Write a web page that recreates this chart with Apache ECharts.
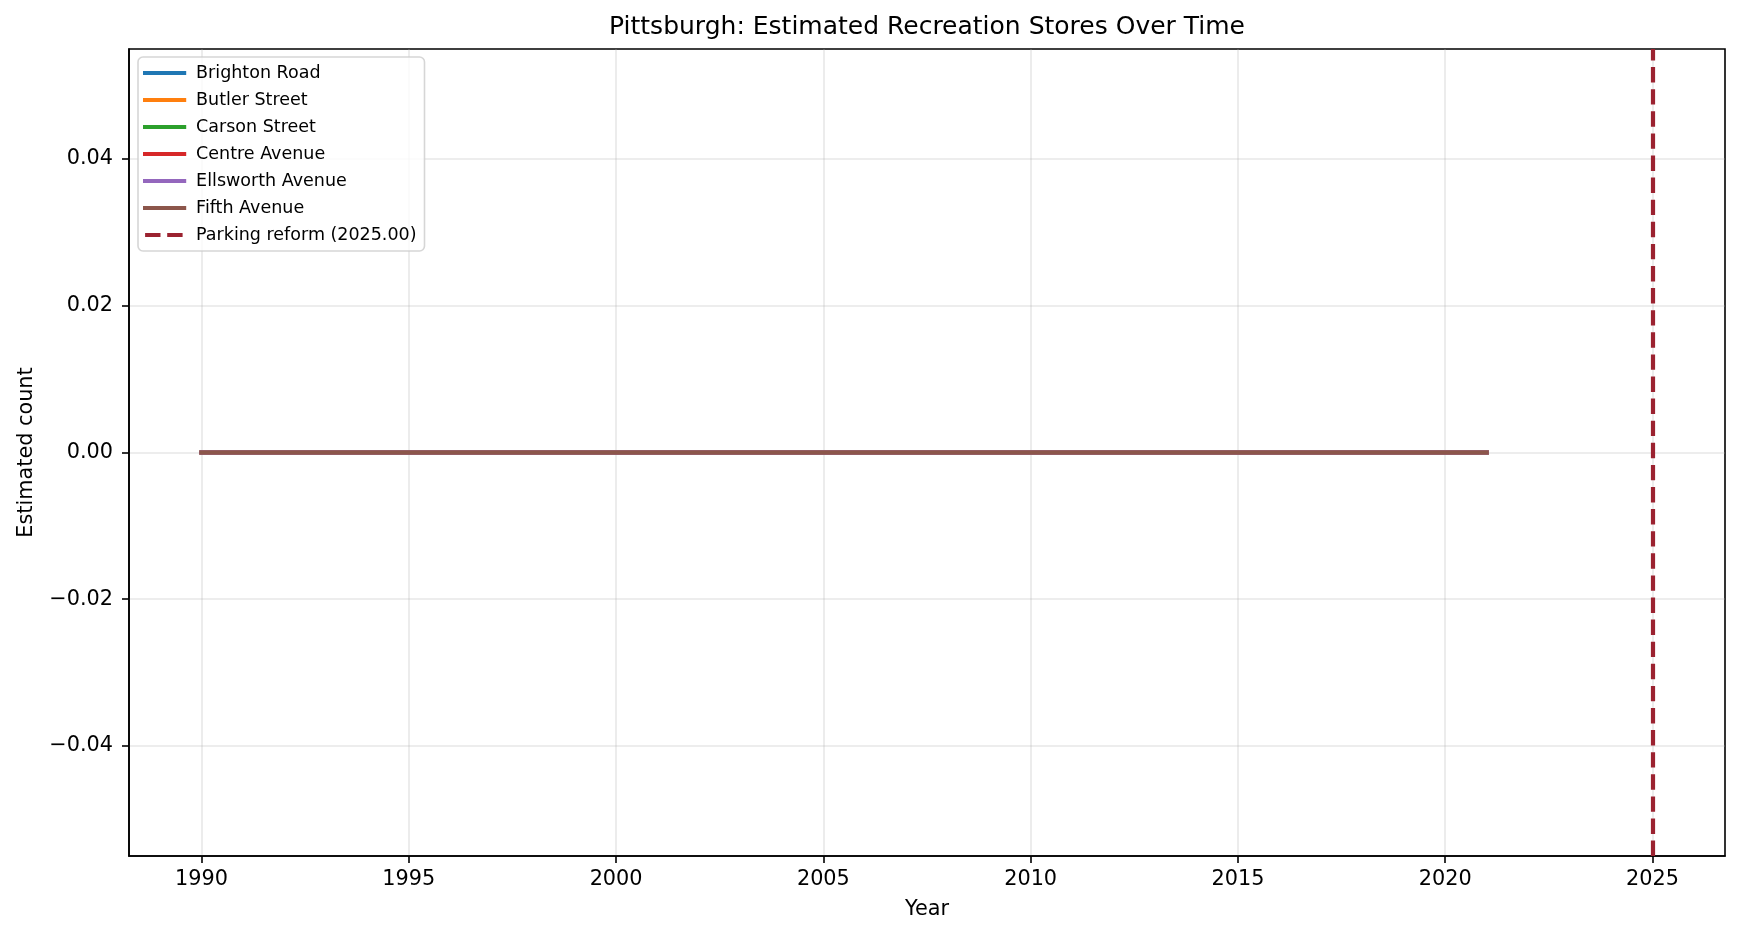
<!DOCTYPE html>
<html>
<head>
<meta charset="utf-8">
<title>Pittsburgh: Estimated Recreation Stores Over Time</title>
<script src="https://cdn.jsdelivr.net/npm/echarts@6/dist/echarts.min.js"></script>
<style>
  html, body { margin: 0; padding: 0; background: #fff; }
  #chart { width: 1742px; height: 936px; }
</style>
</head>
<body>
<div id="chart"></div>
<script>
// data
var years = [1990, 1991, 1992, 1993, 1994, 1995, 1996, 1997, 1998, 1999, 2000, 2001, 2002, 2003, 2004, 2005,
             2006, 2007, 2008, 2009, 2010, 2011, 2012, 2013, 2014, 2015, 2016, 2017, 2018, 2019, 2020, 2021];
var brightonRoad   = [0, 0, 0, 0, 0, 0, 0, 0, 0, 0, 0, 0, 0, 0, 0, 0, 0, 0, 0, 0, 0, 0, 0, 0, 0, 0, 0, 0, 0, 0, 0, 0];
var butlerStreet   = [0, 0, 0, 0, 0, 0, 0, 0, 0, 0, 0, 0, 0, 0, 0, 0, 0, 0, 0, 0, 0, 0, 0, 0, 0, 0, 0, 0, 0, 0, 0, 0];
var carsonStreet   = [0, 0, 0, 0, 0, 0, 0, 0, 0, 0, 0, 0, 0, 0, 0, 0, 0, 0, 0, 0, 0, 0, 0, 0, 0, 0, 0, 0, 0, 0, 0, 0];
var centreAvenue   = [0, 0, 0, 0, 0, 0, 0, 0, 0, 0, 0, 0, 0, 0, 0, 0, 0, 0, 0, 0, 0, 0, 0, 0, 0, 0, 0, 0, 0, 0, 0, 0];
var ellsworthAve   = [0, 0, 0, 0, 0, 0, 0, 0, 0, 0, 0, 0, 0, 0, 0, 0, 0, 0, 0, 0, 0, 0, 0, 0, 0, 0, 0, 0, 0, 0, 0, 0];
var fifthAvenue    = [0, 0, 0, 0, 0, 0, 0, 0, 0, 0, 0, 0, 0, 0, 0, 0, 0, 0, 0, 0, 0, 0, 0, 0, 0, 0, 0, 0, 0, 0, 0, 0];
var reformYear = 2025;

var streetNames = ['Brighton Road', 'Butler Street', 'Carson Street', 'Centre Avenue', 'Ellsworth Avenue', 'Fifth Avenue'];
var streetValues = [brightonRoad, butlerStreet, carsonStreet, centreAvenue, ellsworthAve, fifthAvenue];
var streetColors = ['#1f77b4', '#ff7f0e', '#2ca02c', '#d62728', '#9467bd', '#8c564b'];

var xTicks = [1990, 1995, 2000, 2005, 2010, 2015, 2020, 2025];
var yTicks = [-0.04, -0.02, 0, 0.02, 0.04];
var xRange = [1988.25, 2026.75];
var yRange = [-0.055, 0.055];

var FONT = 'DejaVu Sans';
var reformColor = '#9b2230';
var gridColor = 'rgba(176,176,176,0.3)';

var chart = echarts.init(document.getElementById('chart'));

var series = streetNames.map(function (name, i) {
    return {
        name: name,
        type: 'line',
        data: years.map(function (y, j) { return [y, streetValues[i][j]]; }),
        symbol: 'none',
        color: streetColors[i],
        lineStyle: { width: 4.2, cap: 'square' },
        animation: false
    };
});

series.push({
    name: 'Parking reform (' + reformYear.toFixed(2) + ')',
    type: 'line',
    data: [],
    symbol: 'none',
    color: reformColor,
    lineStyle: { width: 4.2, type: [15.4, 6.7] },
    markLine: {
        silent: true,
        symbol: 'none',
        label: { show: false },
        lineStyle: { color: reformColor, width: 4.2, type: [15.4, 6.7] },
        data: [{ xAxis: reformYear }]
    },
    animation: false
});

function fmtY(v) {
    var s = Math.abs(v).toFixed(2);
    return (v < -1e-12 ? '\u2212' : '') + s;
}

chart.setOption({
    backgroundColor: '#fff',
    animation: false,
    textStyle: { fontFamily: FONT },
    graphic: [{
        type: 'text',
        x: 927, y: 27,
        style: {
            text: 'Pittsburgh: Estimated Recreation Stores Over Time',
            font: '25px "DejaVu Sans"',
            fill: '#000',
            textAlign: 'center',
            textVerticalAlign: 'middle'
        }
    }],
    grid: {
        left: 129, right: 17, top: 49, bottom: 80,
        show: true, borderColor: '#000', borderWidth: 1.6, backgroundColor: 'transparent'
    },
    legend: {
        left: 138, top: 57,
        orient: 'vertical',
        padding: [7, 8, 7, 5],
        itemWidth: 39, itemHeight: 18, itemGap: 9,
        backgroundColor: 'rgba(255,255,255,0.8)',
        borderColor: 'rgba(204,204,204,0.8)', borderWidth: 1.6, borderRadius: 5,
        lineStyle: { width: 4.2 },
        itemStyle: { opacity: 0 },
        textStyle: { fontFamily: FONT, fontSize: 17.5, color: '#000', padding: [0, 0, 0, 7] },
        data: series.map(function (s) { return s.name; })
    },
    xAxis: {
        type: 'value',
        min: xRange[0], max: xRange[1],
        name: 'Year', nameLocation: 'middle', nameGap: 43,
        nameTextStyle: { fontFamily: FONT, fontSize: 20.8, color: '#000' },
        axisLine: { onZero: false, lineStyle: { color: '#000', width: 1.6 } },
        axisTick: { show: true, length: 7, lineStyle: { color: '#000', width: 1.6 }, customValues: xTicks },
        axisLabel: {
            fontFamily: FONT, fontSize: 20.8, color: '#000', margin: 13, customValues: xTicks,
            formatter: function (v) { return String(v); }
        },
        splitLine: { show: true, lineStyle: { color: gridColor, width: 1.6 } }
    },
    yAxis: {
        type: 'value',
        min: yRange[0], max: yRange[1],
        name: 'Estimated count', nameLocation: 'middle', nameGap: 92,
        nameTextStyle: { fontFamily: FONT, fontSize: 20.8, color: '#000' },
        axisLine: { onZero: false, lineStyle: { color: '#000', width: 1.6 } },
        axisTick: { show: true, length: 7, lineStyle: { color: '#000', width: 1.6 }, customValues: yTicks },
        axisLabel: { fontFamily: FONT, fontSize: 20.8, color: '#000', margin: 16, customValues: yTicks, formatter: fmtY },
        splitLine: { show: true, lineStyle: { color: gridColor, width: 1.6 } }
    },
    series: series
});

window.addEventListener('resize', function () {
    chart.resize();
});
</script>
</body>
</html>
